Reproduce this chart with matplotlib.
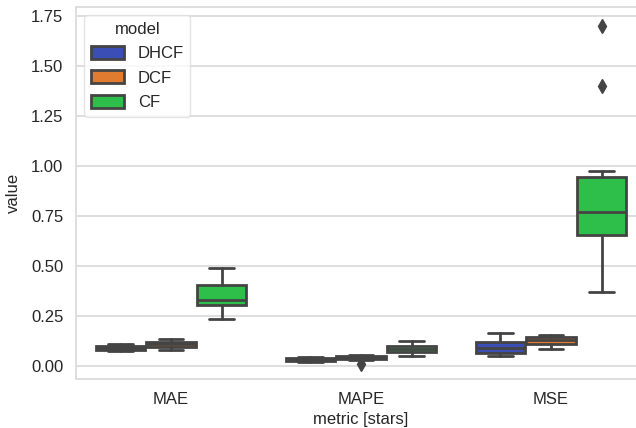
import matplotlib
matplotlib.use("Agg")
import matplotlib.pyplot as plt
from matplotlib.patches import Patch
import numpy as np
import seaborn as sns

metrics = ["MAE", "MAPE", "MSE"]
models = ["DHCF", "DCF", "CF"]

# Box statistics per model, ordered by metrics (MAE, MAPE, MSE)
dhcf_lo = [0.072, 0.018, 0.050]
dhcf_q1 = [0.080, 0.024, 0.063]
dhcf_med = [0.090, 0.030, 0.088]
dhcf_q3 = [0.100, 0.037, 0.120]
dhcf_hi = [0.106, 0.042, 0.162]
dhcf_fliers = [[], [], []]

dcf_lo = [0.080, 0.028, 0.082]
dcf_q1 = [0.095, 0.033, 0.108]
dcf_med = [0.108, 0.040, 0.128]
dcf_q3 = [0.118, 0.046, 0.145]
dcf_hi = [0.135, 0.052, 0.153]
dcf_fliers = [[], [0.008], []]

cf_lo = [0.232, 0.048, 0.367]
cf_q1 = [0.302, 0.066, 0.655]
cf_med = [0.330, 0.083, 0.770]
cf_q3 = [0.402, 0.100, 0.945]
cf_hi = [0.488, 0.123, 0.975]
cf_fliers = [[], [], [1.40, 1.70]]

yticks = [0.00, 0.25, 0.50, 0.75, 1.00, 1.25, 1.50, 1.75]

sns.set_style("whitegrid")
plt.rcParams["font.family"] = ["Liberation Sans", "DejaVu Sans"]

FS = 12
gray = "#444444"
gridc = "#e0dddd"
txtc = "#262626"
lw = 2.0

pal = ["#3a4eb6", "#e07b2f", "#2dbf49"]

stats_by_model = [
    (dhcf_lo, dhcf_q1, dhcf_med, dhcf_q3, dhcf_hi, dhcf_fliers),
    (dcf_lo, dcf_q1, dcf_med, dcf_q3, dcf_hi, dcf_fliers),
    (cf_lo, cf_q1, cf_med, cf_q3, cf_hi, cf_fliers),
]

fig = plt.figure(figsize=(6.36, 4.28), dpi=100)
ax = fig.add_axes([76 / 636, 49 / 428, 570 / 636, 372 / 428])

n = len(models)
each = 0.8 / n
w = each * 0.98
offsets = (np.arange(n) - (n - 1) / 2) * each
base = np.arange(len(metrics))

for i, (lo, q1, med, q3, hi, fl) in enumerate(stats_by_model):
    stats = [dict(whislo=lo[j], q1=q1[j], med=med[j], q3=q3[j], whishi=hi[j],
                  fliers=fl[j]) for j in range(len(metrics))]
    ax.bxp(stats, positions=base + offsets[i], widths=w, capwidths=w * 0.5,
           patch_artist=True, showfliers=True, manage_ticks=False,
           boxprops=dict(facecolor=pal[i], edgecolor=gray, linewidth=lw),
           medianprops=dict(color=gray, linewidth=lw),
           whiskerprops=dict(color=gray, linewidth=lw),
           capprops=dict(color=gray, linewidth=lw),
           flierprops=dict(marker="d", markerfacecolor=gray, markeredgecolor=gray,
                           markersize=7, markeredgewidth=1))

ax.set_xlim(-0.5, 2.5)
ax.set_ylim(-0.067, 1.795)
ax.set_xticks(base)
ax.set_xticklabels(metrics)
ax.set_yticks(yticks)
ax.set_yticklabels([f"{v:.2f}" for v in yticks])
ax.tick_params(axis="both", length=0, pad=9, labelsize=FS, labelcolor=txtc)
ax.xaxis.grid(False)
ax.yaxis.grid(True, color=gridc, linewidth=1.4)
ax.set_axisbelow(True)
for s in ax.spines.values():
    s.set_color(gridc)
    s.set_linewidth(1.4)

ax.set_xlabel("metric [stars]", fontsize=FS, color=txtc)
ax.set_ylabel("value", fontsize=FS, color=txtc, labelpad=7)

handles = [Patch(facecolor=pal[i], edgecolor=gray, linewidth=lw, label=m)
           for i, m in enumerate(models)]
leg = ax.legend(handles=handles, title="model", loc="upper left",
                fontsize=FS, title_fontsize=FS, frameon=True,
                handleheight=0.8, labelspacing=0.55)
leg.get_frame().set_edgecolor(gridc)
for t in leg.get_texts():
    t.set_color(txtc)
leg.get_title().set_color(txtc)

fig.savefig("out.png", dpi=100)
